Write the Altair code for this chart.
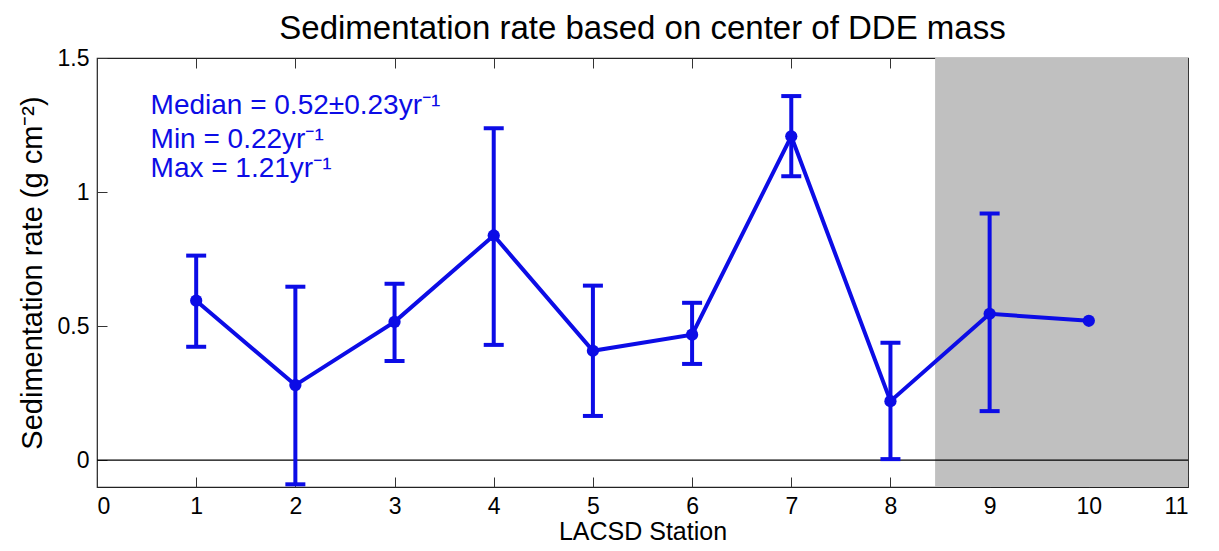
import altair as alt
import pandas as pd

stations = [1, 2, 3, 4, 5, 6, 7, 8, 9, 10]
rates = [0.595, 0.28, 0.516, 0.838, 0.408, 0.468, 1.208, 0.22, 0.546, 0.52]
err_stations = [1, 2, 3, 4, 5, 6, 7, 8, 9]
err_low = [0.423, -0.09, 0.37, 0.43, 0.165, 0.359, 1.059, 0.004, 0.183]
err_high = [0.763, 0.647, 0.658, 1.238, 0.651, 0.587, 1.358, 0.438, 0.92]
shade_x = [8.45]
shade_x2 = [11]
shade_y = [-0.1]
shade_y2 = [1.5]
notes = ["Median = 0.52±0.23yr⁻¹", "Min = 0.22yr⁻¹", "Max = 1.21yr⁻¹"]
note_x = [0.54, 0.54, 0.54]
note_y = [1.29, 1.164, 1.057]
x_ticks = list(range(0, 12))
y_ticks = [0, 0.5, 1, 1.5]

BLUE = "#0c0ce6"
FONT = "Liberation Sans"

df = pd.DataFrame({"station": stations, "rate": rates})
edf = pd.DataFrame({"station": err_stations, "lo": err_low, "hi": err_high})
sdf = pd.DataFrame({"x": shade_x, "x2": shade_x2, "y": shade_y, "y2": shade_y2})
ndf = pd.DataFrame({"x": note_x, "y": note_y, "t": notes})
zdf = pd.DataFrame({"y": [0]})

xscale = alt.Scale(domain=[0, 11], nice=False, zero=False)
yscale = alt.Scale(domain=[-0.1, 1.5], nice=False, zero=False)

TICK = 10
xaxis = alt.Axis(values=x_ticks, orient="bottom", title="LACSD Station", grid=False,
                 domain=False, offset=-TICK, tickSize=TICK, tickColor="#333333",
                 labelPadding=8, labelFontSize=23, labelFont=FONT, labelColor="black",
                 titleFontSize=25, titleFont=FONT, titleFontWeight="normal",
                 titleColor="black", titlePadding=1)
yaxis = alt.Axis(values=y_ticks, orient="left", title="Sedimentation rate (g cm⁻²)",
                 grid=False, domain=False, offset=-TICK, tickSize=TICK, tickColor="#333333",
                 labelPadding=8, labelFontSize=23, labelFont=FONT, labelColor="black",
                 labelExpr="'' + datum.value",
                 titleFontSize=29, titleFont=FONT, titleFontWeight="normal",
                 titleColor="black", titlePadding=10)
xaxis_top = alt.Axis(values=x_ticks, orient="top", title=None, labels=False, grid=False,
                     domain=False, offset=-TICK, tickSize=TICK, tickColor="#333333")
yaxis_right = alt.Axis(values=y_ticks, orient="right", title=None, labels=False, grid=False,
                       domain=False, offset=-TICK, tickSize=TICK, tickColor="#333333")

shade = alt.Chart(sdf).mark_rect(color="#c0c0c0").encode(
    x=alt.X("x:Q", scale=xscale, axis=xaxis),
    x2="x2:Q",
    y=alt.Y("y:Q", scale=yscale, axis=yaxis),
    y2="y2:Q",
)

zero = alt.Chart(zdf).mark_rule(color="black", strokeWidth=1.2).encode(
    y=alt.Y("y:Q", scale=yscale, axis=yaxis_right),
    x=alt.value(0),
    x2=alt.value(1091),
)

# invisible layer that carries the top axis
top_axis = alt.Chart(zdf).mark_rule(opacity=0).encode(
    x=alt.X("y:Q", scale=xscale, axis=xaxis_top),
)

bars = alt.Chart(edf).mark_rule(color=BLUE, strokeWidth=4, clip=True).encode(
    x=alt.X("station:Q", scale=xscale, axis=None),
    y=alt.Y("lo:Q", scale=yscale, axis=None),
    y2="hi:Q",
)
caps_lo = alt.Chart(edf).mark_tick(color=BLUE, orient="horizontal", size=20,
                                   thickness=4, clip=True, opacity=1).encode(
    x=alt.X("station:Q", scale=xscale, axis=None),
    y=alt.Y("lo:Q", scale=yscale, axis=None),
)
caps_hi = alt.Chart(edf).mark_tick(color=BLUE, orient="horizontal", size=20,
                                   thickness=4, clip=True, opacity=1).encode(
    x=alt.X("station:Q", scale=xscale, axis=None),
    y=alt.Y("hi:Q", scale=yscale, axis=None),
)
line = alt.Chart(df).mark_line(color=BLUE, strokeWidth=4).encode(
    x=alt.X("station:Q", scale=xscale, axis=None),
    y=alt.Y("rate:Q", scale=yscale, axis=None),
)
pts = alt.Chart(df).mark_circle(color=BLUE, size=150, opacity=1).encode(
    x=alt.X("station:Q", scale=xscale, axis=None),
    y=alt.Y("rate:Q", scale=yscale, axis=None),
)
text = alt.Chart(ndf).mark_text(color=BLUE, align="left", baseline="alphabetic",
                                fontSize=28, font=FONT).encode(
    x=alt.X("x:Q", scale=xscale, axis=None),
    y=alt.Y("y:Q", scale=yscale, axis=None),
    text="t:N",
)

chart = alt.layer(shade, zero, top_axis, bars, caps_lo, caps_hi, line, pts, text).resolve_axis(
    x="independent", y="independent"
).properties(
    width=1091,
    height=429,
    autosize=alt.AutoSizeParams(type="none"),
    padding={"left": 89, "top": 50, "right": 23, "bottom": 56},
    title=alt.TitleParams("Sedimentation rate based on center of DDE mass",
                          fontSize=33, font=FONT, fontWeight="normal", color="black",
                          anchor="middle", offset=1),
).configure_view(stroke="#222222", strokeWidth=1.2)

chart.save("out.html", embed_options={"renderer": "svg", "actions": False})
